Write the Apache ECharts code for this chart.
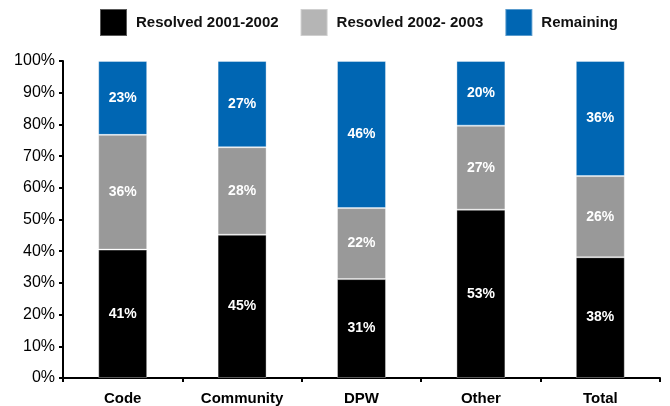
<!DOCTYPE html>
<html>
<head>
<meta charset="utf-8">
<script src="https://cdn.jsdelivr.net/npm/echarts@6/dist/echarts.min.js"></script>
<style>html,body{margin:0;padding:0;background:#fff}#c{width:670px;height:406px}</style>
</head>
<body>
<div id="c"></div>
<script>
var categories = ['Code', 'Community', 'DPW', 'Other', 'Total'];
var seriesNames = ['Resolved 2001-2002', 'Resovled 2002- 2003', 'Remaining'];
var resolved0102 = [40.5, 45.2, 31.2, 53.1, 38.1];
var resolved0203 = [36.2, 27.6, 22.4, 26.5, 25.6];
var remaining = [23.3, 27.2, 46.4, 20.4, 36.3];
var yTicks = [0, 10, 20, 30, 40, 50, 60, 70, 80, 90, 100];

var FONT = 'Arial, "Liberation Sans", sans-serif';
var colors = ['#000000', '#999999', '#0066b3'];
var legendColors = ['#000000', '#b5b5b5', '#0066b3'];
var datasets = [resolved0102, resolved0203, remaining];

var chart = echarts.init(document.getElementById('c'), null, {renderer: 'canvas'});
chart.setOption({
  animation: false,
  legend: {
    left: 94, top: 3,
    itemWidth: 27, itemHeight: 27, itemGap: 21,
    icon: 'rect',
    textStyle: {fontFamily: FONT, fontSize: 15, fontWeight: 'bold', color: '#111', padding: [0, 0, 0, 4]},
    data: seriesNames.map(function (n, i) { return {name: n, itemStyle: {color: legendColors[i]}}; })
  },
  grid: {left: 63, right: 10, top: 61, bottom: 27, containLabel: false},
  xAxis: {
    type: 'category',
    data: categories,
    axisLine: {lineStyle: {color: '#000', width: 2}},
    axisTick: {show: true, length: 4, lineStyle: {color: '#000', width: 2}},
    axisLabel: {fontFamily: FONT, fontSize: 15, fontWeight: 'bold', color: '#000', margin: 13}
  },
  yAxis: {
    type: 'value',
    min: yTicks[0], max: yTicks[yTicks.length - 1], interval: 10,
    axisLine: {show: true, lineStyle: {color: '#000', width: 2}},
    axisTick: {show: true, length: 4, lineStyle: {color: '#000', width: 2}},
    splitLine: {show: false},
    axisLabel: {fontFamily: FONT, fontSize: 16, color: '#000', margin: 8, formatter: '{value}%'}
  },
  series: datasets.map(function (d, i) {
    return {
      name: seriesNames[i],
      type: 'bar',
      stack: 'all',
      barWidth: '41%',
      data: d,
      itemStyle: {color: colors[i], borderColor: 'rgba(255,255,255,0.35)', borderWidth: 1},
      label: {
        show: true, position: 'inside',
        fontFamily: FONT, fontSize: 14, fontWeight: 'bold', color: '#fff',
        formatter: function (p) { return Math.round(p.value) + '%'; }
      }
    };
  })
});
</script>
</body>
</html>
